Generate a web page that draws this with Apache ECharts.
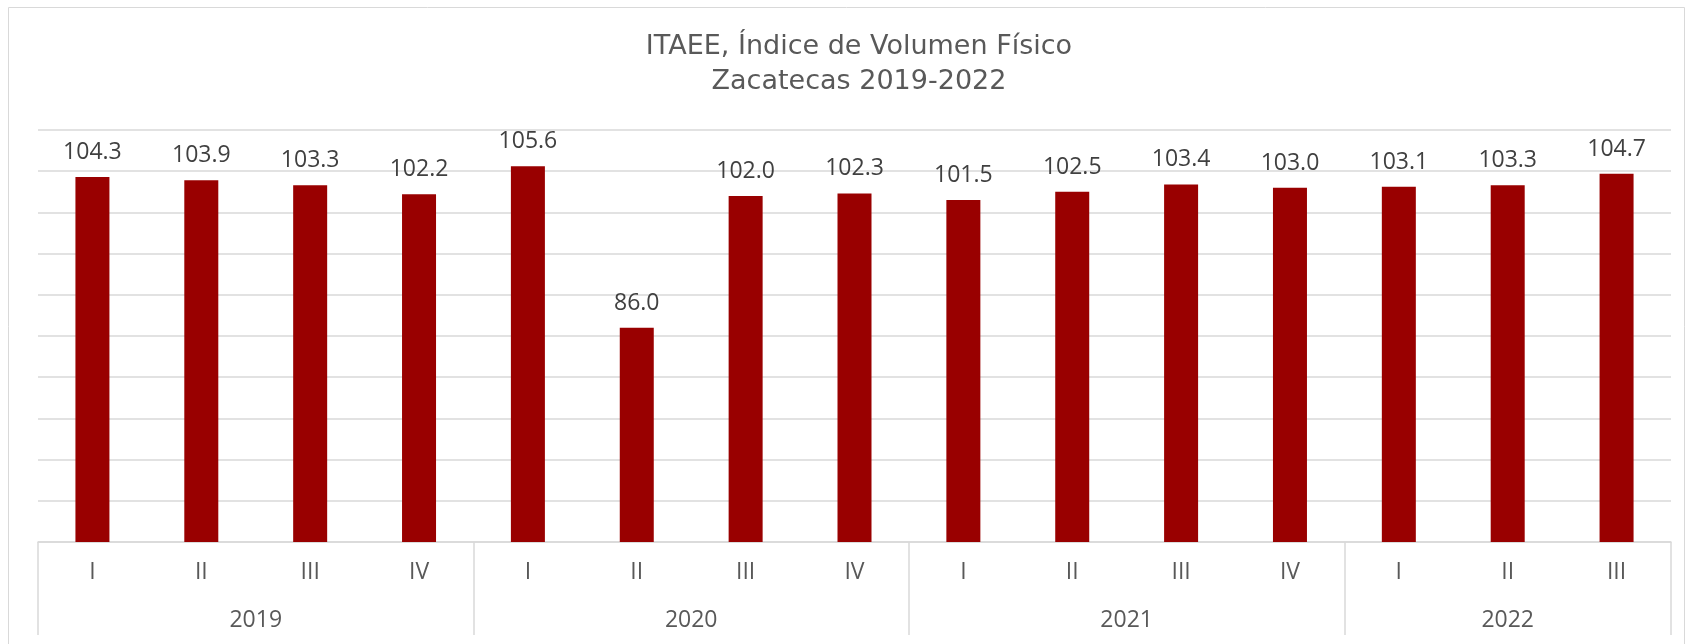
<!DOCTYPE html>
<html>
<head>
    <meta charset="UTF-8"/>
    <script type="text/javascript" src="https://cdn.jsdelivr.net/npm/echarts@6/dist/echarts.min.js"></script>
    <style>
        html, body { margin: 0; padding: 0; background: #fff; }
        #main { width: 1686px; height: 644px; }
    </style>
</head>
<body>
<div id="main"></div>
<script type="text/javascript">
    // trimestres (eje x) y valores del indice
    var quarters = ['I', 'II', 'III', 'IV', 'I', 'II', 'III', 'IV', 'I', 'II', 'III', 'IV', 'I', 'II', 'III'];
    var values = [104.3, 103.9, 103.3, 102.2, 105.6, 86.0, 102.0, 102.3, 101.5, 102.5, 103.4, 103.0, 103.1, 103.3, 104.7];
    var years = ['2019', '2020', '2021', '2022'];
    var quartersPerYear = [4, 4, 4, 3];

    var FONT = 'Open Sans';

    // limites y centros de cada año sobre un eje 0..15
    var bounds = [0];
    var centers = [];
    var yearAt = {};
    var acc = 0;
    for (var i = 0; i < years.length; i++) {
        centers.push(acc + quartersPerYear[i] / 2);
        yearAt[acc + quartersPerYear[i] / 2] = years[i];
        acc += quartersPerYear[i];
        bounds.push(acc);
    }

    var myChart = echarts.init(document.getElementById('main'));
    var option = {
        animation: false,
        title: {
            text: 'ITAEE, Índice de Volumen Físico\nZacatecas 2019-2022',
            left: 854,
            textAlign: 'center',
            top: 24,
            textStyle: {
                fontFamily: 'DejaVu Sans',
                fontSize: 27,
                fontWeight: 'normal',
                color: '#595959',
                lineHeight: 35
            }
        },
        graphic: [{
            type: 'rect',
            shape: { x: 8.5, y: 7.5, width: 1676, height: 680 },
            style: { fill: 'none', stroke: '#d9d9d9', lineWidth: 1 },
            silent: true
        }],
        grid: { left: 38, right: 15, top: 130, bottom: 102 },
        xAxis: [{
            type: 'category',
            data: quarters,
            axisLine: { lineStyle: { color: '#d9d9d9', width: 1.5 } },
            axisTick: { show: false },
            axisLabel: { fontFamily: FONT, fontSize: 23, color: '#595959', margin: 19, interval: 0 }
        }, {
            type: 'value',
            min: 0,
            max: acc,
            position: 'bottom',
            axisLine: { show: false },
            splitLine: { show: false },
            axisTick: {
                show: true,
                customValues: bounds,
                length: 93,
                lineStyle: { color: '#d9d9d9', width: 1.5 }
            },
            axisLabel: {
                customValues: centers,
                margin: 67,
                fontFamily: FONT,
                fontSize: 23,
                color: '#595959',
                formatter: function (v) { return yearAt[v] || ''; }
            }
        }],
        yAxis: {
            type: 'value',
            min: 60,
            max: 110,
            interval: 5,
            axisLine: { show: false },
            axisTick: { show: false },
            axisLabel: { show: false },
            splitLine: { lineStyle: { color: '#d9d9d9', width: 1.5 } }
        },
        series: [{
            type: 'bar',
            data: values,
            barWidth: 34,
            itemStyle: { color: '#990000' },
            label: {
                show: true,
                position: 'top',
                distance: 13,
                fontFamily: FONT,
                fontSize: 23,
                color: '#404040',
                formatter: function (p) { return p.value.toFixed(1); }
            }
        }]
    };
    myChart.setOption(option);
</script>
</body>
</html>
